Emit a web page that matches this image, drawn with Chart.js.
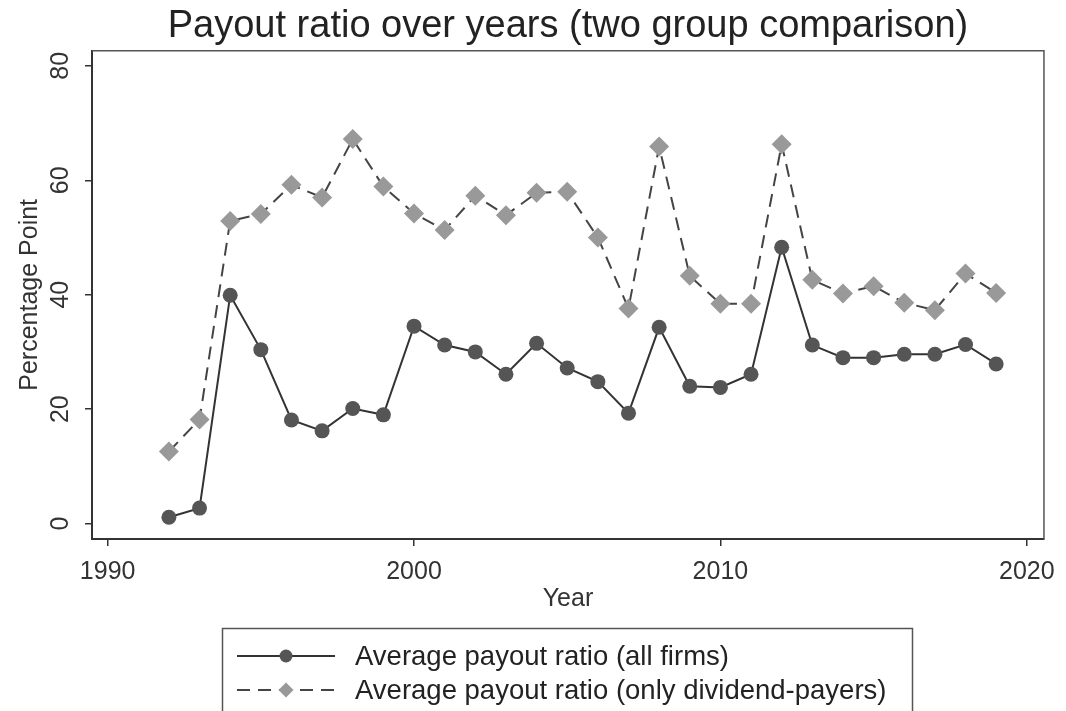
<!DOCTYPE html>
<html>
<head>
<meta charset="utf-8">
<title>Payout ratio over years</title>
<script src="https://cdn.jsdelivr.net/npm/chart.js@4.4.1/dist/chart.umd.min.js"></script>
<style>
  html, body { margin: 0; padding: 0; background: #fff; }
  #wrap { width: 1066px; height: 711px; }
</style>
</head>
<body>
<div id="wrap"><canvas id="myChart" width="1066" height="711"></canvas></div>
<script>
var years = [1992, 1993, 1994, 1995, 1996, 1997, 1998, 1999, 2000, 2001,
             2002, 2003, 2004, 2005, 2006, 2007, 2008, 2009, 2010, 2011,
             2012, 2013, 2014, 2015, 2016, 2017, 2018, 2019];
var allFirms = [1.1, 2.7, 39.9, 30.4, 18.1, 16.2, 20.1, 19.0, 34.5, 31.2,
                30.0, 26.1, 31.5, 27.2, 24.8, 19.3, 34.3, 24.0, 23.8, 26.1,
                48.3, 31.2, 29.0, 29.0, 29.6, 29.6, 31.3, 27.9];
var divPayers = [12.6, 18.2, 52.9, 54.1, 59.2, 57.0, 67.2, 58.9, 54.2, 51.3,
                 57.3, 53.9, 57.8, 58.0, 50.0, 37.6, 65.9, 43.3, 38.4, 38.4,
                 66.3, 42.6, 40.2, 41.5, 38.6, 37.3, 43.7, 40.3];
var seriesNames = ["Average payout ratio (all firms)", "Average payout ratio (only dividend-payers)"];
var xTicks = [1990, 2000, 2010, 2020];
var yTicks = [0, 20, 40, 60, 80];

var FONT = "Arial, 'Liberation Sans', sans-serif";

function toPoints(vals) {
    return years.map(function (yr, i) { return { x: yr, y: vals[i] }; });
}

// box round the plot region (top + right edges, axes draw the rest)
var plotBorder = {
    id: 'plotBorder',
    beforeDatasetsDraw: function (chart) {
        var a = chart.chartArea, ctx = chart.ctx;
        ctx.save();
        ctx.strokeStyle = '#555';
        ctx.lineWidth = 1.5;
        ctx.beginPath();
        ctx.moveTo(a.left, a.top);
        ctx.lineTo(a.right, a.top);
        ctx.lineTo(a.right, a.bottom);
        ctx.stroke();
        ctx.restore();
    }
};

// stata style legend: line + marker sample, boxed
var stataLegend = {
    id: 'stataLegend',
    afterDraw: function (chart) {
        var ctx = chart.ctx;
        ctx.save();
        ctx.strokeStyle = '#555';
        ctx.lineWidth = 1.5;
        ctx.strokeRect(222.5, 628.5, 690, 120);
        chart.data.datasets.forEach(function (ds, i) {
            var y = 656 + i * 34;
            ctx.strokeStyle = ds.borderColor;
            ctx.lineWidth = 2;
            ctx.setLineDash(ds.borderDash || []);
            ctx.beginPath();
            ctx.moveTo(237, y);
            ctx.lineTo(335, y);
            ctx.stroke();
            ctx.setLineDash([]);
            ctx.fillStyle = ds.pointBackgroundColor;
            ctx.beginPath();
            if (ds.pointStyle === 'rectRot') {
                ctx.moveTo(286, y - 7.5);
                ctx.lineTo(293.5, y);
                ctx.lineTo(286, y + 7.5);
                ctx.lineTo(278.5, y);
                ctx.closePath();
            } else {
                ctx.arc(286, y, 6.5, 0, Math.PI * 2);
            }
            ctx.fill();
            ctx.fillStyle = '#222';
            ctx.font = '27.5px ' + FONT;
            ctx.textBaseline = 'middle';
            ctx.textAlign = 'left';
            ctx.fillText(ds.label, 355, y + 1);
        });
        ctx.restore();
    }
};

var ctx = document.getElementById('myChart').getContext('2d');
var chart = new Chart(ctx, {
    type: 'line',
    data: {
        datasets: [{
            label: seriesNames[0],
            data: toPoints(allFirms),
            borderColor: '#333',
            borderWidth: 2,
            pointStyle: 'circle',
            pointRadius: 7.5,
            pointBackgroundColor: '#555',
            pointBorderWidth: 0,
            tension: 0,
            order: 1
        }, {
            label: seriesNames[1],
            data: toPoints(divPayers),
            borderColor: '#444',
            borderWidth: 2,
            borderDash: [13, 8],
            pointStyle: 'rectRot',
            pointRadius: 10,
            pointBackgroundColor: '#999',
            pointBorderWidth: 0,
            tension: 0,
            order: 0
        }]
    },
    options: {
        responsive: false,
        animation: false,
        devicePixelRatio: 1,
        layout: { padding: { left: 0, right: 20, top: 0, bottom: 92 } },
        plugins: {
            legend: { display: false },
            tooltip: { enabled: false },
            title: {
                display: true,
                text: 'Payout ratio over years (two group comparison)',
                color: '#222',
                fullSize: false,
                font: { family: FONT, size: 38, weight: 'normal', lineHeight: 1.05 },
                padding: { top: 7, bottom: 3.8 }
            }
        },
        scales: {
            x: {
                type: 'linear',
                position: 'bottom',
                min: 1989.49,
                max: 2020.56,
                afterBuildTicks: function (s) { s.ticks = xTicks.map(function (v) { return { value: v }; }); },
                afterFit: function (s) { s.height = 80; },
                border: { display: true, color: '#333', width: 2 },
                grid: { drawOnChartArea: false, drawTicks: true, tickLength: 7, color: '#333', lineWidth: 1.5 },
                ticks: {
                    autoSkip: false, minRotation: 0, maxRotation: 0, padding: 11,
                    color: '#333', font: { family: FONT, size: 25 },
                    callback: function (v) { return String(v); }
                },
                title: {
                    display: true, text: 'Year', color: '#333',
                    font: { family: FONT, size: 25 },
                    padding: { top: 0, bottom: 5 }
                }
            },
            y: {
                type: 'linear',
                min: -2.7,
                max: 82.65,
                afterBuildTicks: function (s) { s.ticks = yTicks.map(function (v) { return { value: v }; }); },
                afterFit: function (s) { s.width = 92; },
                border: { display: true, color: '#333', width: 2 },
                grid: { drawOnChartArea: false, drawTicks: true, tickLength: 7, color: '#333', lineWidth: 1.5 },
                ticks: {
                    autoSkip: false, minRotation: 90, maxRotation: 90, crossAlign: 'center', padding: 10,
                    color: '#333', font: { family: FONT, size: 25 },
                    callback: function (v) { return String(v); }
                },
                title: {
                    display: true, text: 'Percentage Point', color: '#333',
                    font: { family: FONT, size: 25 },
                    padding: { top: 15, bottom: 0 }
                }
            }
        }
    },
    plugins: [plotBorder, stataLegend]
});
</script>
</body>
</html>
